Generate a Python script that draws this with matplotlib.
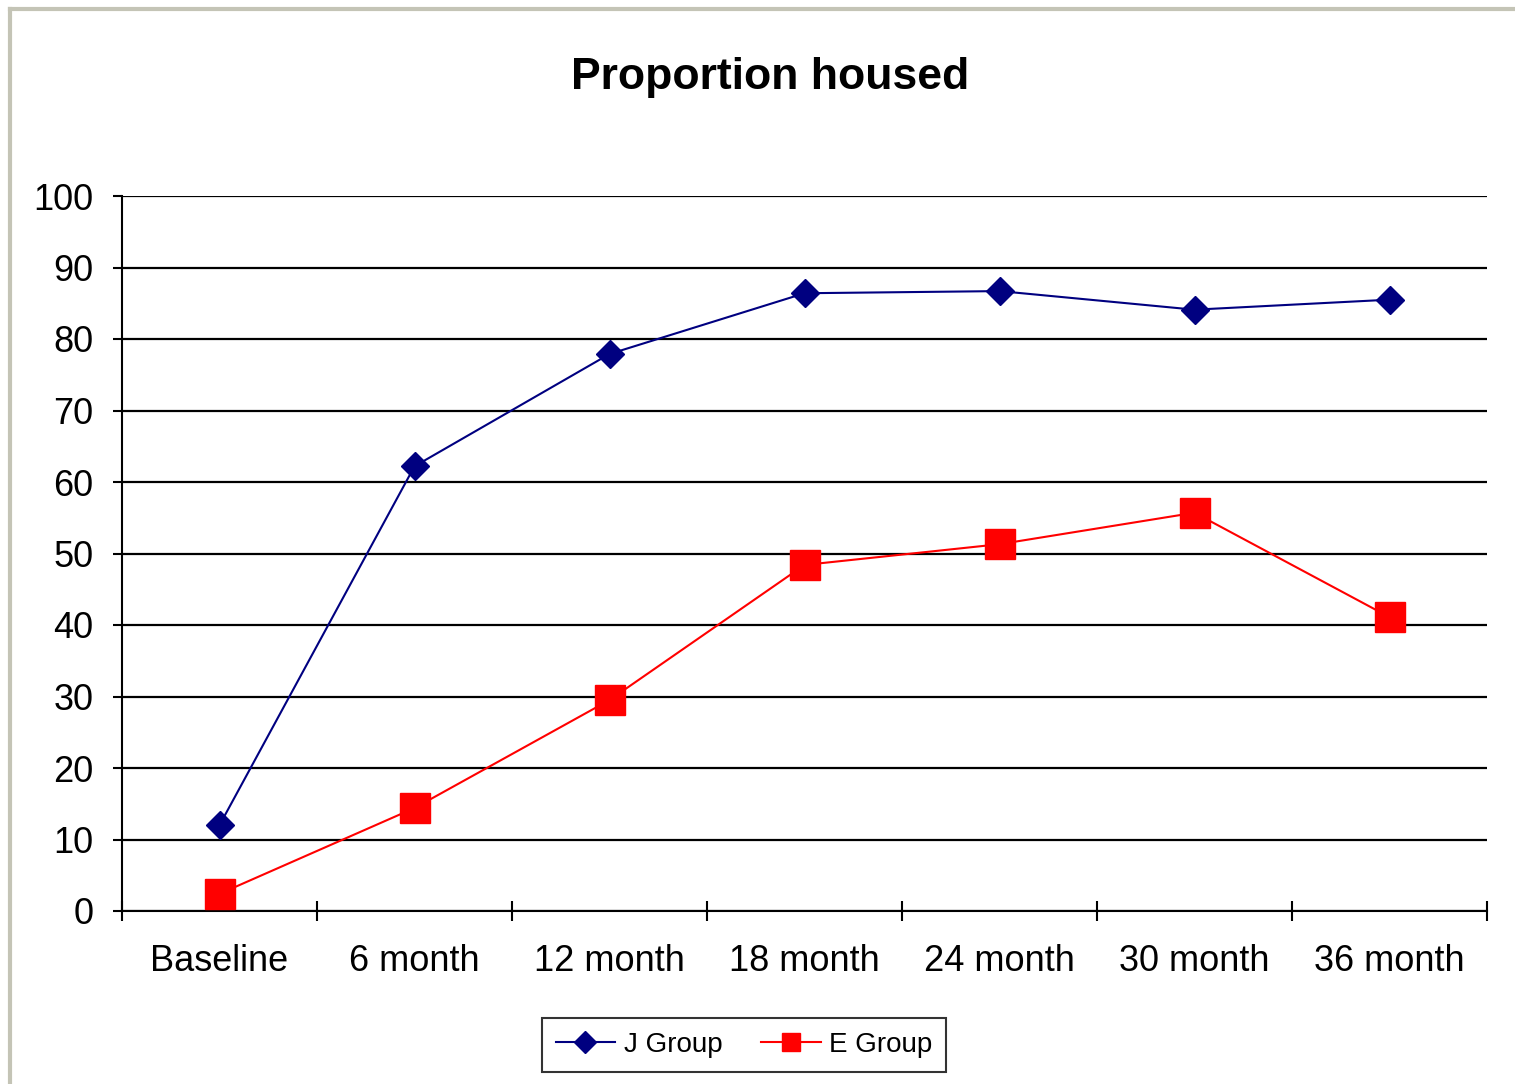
import matplotlib.pyplot as plt
from matplotlib.lines import Line2D

plt.rcParams['font.family'] = ['Liberation Sans', 'DejaVu Sans']

categories = ['Baseline', '6 month', '12 month', '18 month', '24 month', '30 month', '36 month']
j_group = [12.0, 62.2, 77.9, 86.4, 86.7, 84.1, 85.5]
e_group = [2.4, 14.4, 29.5, 48.4, 51.3, 55.7, 41.1]

j_color = '#000080'
e_color = '#FF0000'

fig = plt.figure(figsize=(15.15, 10.84), dpi=100)
ax = fig.add_axes([122/1515, 1 - 911/1084, (1487-122)/1515, (911-196)/1084])

x = list(range(len(categories)))
ax.plot(x, j_group, color=j_color, lw=1.5, marker='D', ms=14.5, zorder=3)
ax.plot(x, e_group, color=e_color, lw=1.5, marker='s', ms=21, zorder=3)

ax.set_xlim(-0.5, len(categories) - 0.5)
ax.set_ylim(0, 100)
ax.set_yticks(range(0, 101, 10))
ax.yaxis.grid(True, color='black', lw=1.6)
ax.set_axisbelow(True)

ax.set_xticks(x)
ax.set_xticklabels(categories, fontsize=26)
ax.set_xticks([i - 0.5 for i in range(len(categories) + 1)], minor=True)
ax.tick_params(axis='x', which='major', length=0, pad=24)
ax.tick_params(axis='x', which='minor', direction='inout', length=14, width=1.5)
ax.tick_params(axis='y', direction='out', length=6.5, width=1.5, labelsize=26, pad=14)

for side in ['top', 'right']:
    ax.spines[side].set_visible(False)
for side in ['left', 'bottom']:
    ax.spines[side].set_linewidth(1.5)

fig.text(770/1515, 1 - 77/1084, 'Proportion housed', fontsize=32, fontweight='bold',
         ha='center', va='center')

handles = [Line2D([], [], color=j_color, lw=1.5, marker='D', ms=11),
           Line2D([], [], color=e_color, lw=1.5, marker='s', ms=12.5)]
leg = fig.legend(handles, ['J Group', 'E Group'], loc='center',
                 bbox_to_anchor=(744/1515, 1 - 1045/1084), ncol=2,
                 fontsize=20, frameon=True, fancybox=False, edgecolor='black',
                 handlelength=2.15, handletextpad=0.3, columnspacing=1.4,
                 borderpad=0.5, borderaxespad=0)
leg.get_frame().set_linewidth(1.5)

# grey frame of the chart area (top and left edges only visible)
fig.add_artist(Line2D([10/1515, 1], [1 - 9/1084, 1 - 9/1084], color='#c4c4b6', lw=3))
fig.add_artist(Line2D([10/1515, 10/1515], [0, 1 - 9/1084], color='#c4c4b6', lw=3))

fig.savefig('out.png', dpi=100)
